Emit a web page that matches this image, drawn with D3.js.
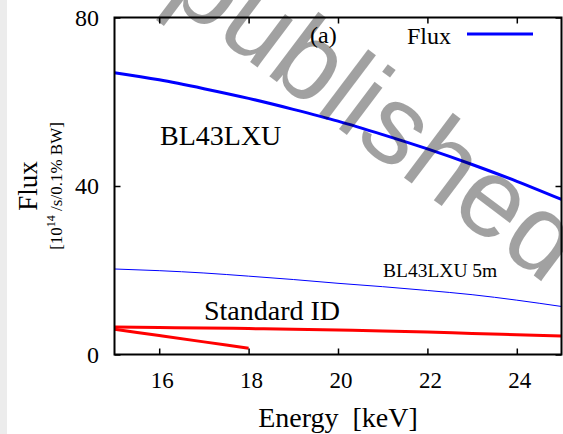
<!DOCTYPE html>
<html>
<head>
<meta charset="utf-8">
<script src="https://cdn.jsdelivr.net/npm/d3@7"></script>
<style>
  html, body { margin: 0; padding: 0; background: #fff; }
  svg { display: block; }
  text { font-family: "Liberation Serif", "Times New Roman", serif; fill: #000; }
</style>
</head>
<body>
<svg id="chart" width="563" height="434"></svg>
<script>
// Photon energy grid [keV]
const energy = [15, 16, 17, 18, 19, 20, 21, 22, 23, 24, 25];
// Flux in units of 1e14 photons/s/0.1% BW
const fluxBL43LXU   = [66.9, 65.2, 63.1, 60.8, 58.2, 55.4, 52.2, 48.8, 45.1, 41.1, 36.8];
const fluxBL43LXU5m = [20.3, 19.9, 19.35, 18.6, 17.8, 16.9, 16.1, 15.2, 14.2, 12.9, 11.4];
const fluxStdID     = [6.5, 6.4, 6.3, 6.15, 6.0, 5.8, 5.6, 5.35, 5.0, 4.7, 4.4];
// Second standard-ID branch, only covered up to 18 keV
const energyStdLow  = [15, 16, 17, 18];
const fluxStdLow    = [6.0, 4.5, 3.0, 1.5];

const xTicks = [16, 18, 20, 22, 24];
const yTicks = [0, 40, 80];

const svg = d3.select("#chart");
const W = 563, H = 434;
const m = { left: 114.5, right: 561.5, top: 17.5, bottom: 354.5 };

// page edge shading
svg.append("rect").attr("x", 0).attr("y", 0).attr("width", 7).attr("height", H).attr("fill", "#ececec");

const x = d3.scaleLinear().domain([15, 25]).range([m.left, m.right]);
const y = d3.scaleLinear().domain([0, 80]).range([m.bottom, m.top]);

const line = d3.line().x(d => x(d[0])).y(d => y(d[1])).curve(d3.curveMonotoneX);
const zip = (a, b) => a.map((v, i) => [v, b[i]]);

const plot = svg.append("g");
plot.append("path").datum(zip(energy, fluxBL43LXU5m)).attr("d", line)
  .attr("fill", "none").attr("stroke", "#0000ff").attr("stroke-width", 1);
plot.append("path").datum(zip(energyStdLow, fluxStdLow)).attr("d", line)
  .attr("fill", "none").attr("stroke", "#ff0000").attr("stroke-width", 3);
plot.append("path").datum(zip(energy, fluxStdID)).attr("d", line)
  .attr("fill", "none").attr("stroke", "#ff0000").attr("stroke-width", 3);
plot.append("path").datum(zip(energy, fluxBL43LXU)).attr("d", line)
  .attr("fill", "none").attr("stroke", "#0000ff").attr("stroke-width", 3);

// Axes: ticks pointing inward, mirrored on the opposite side
const tickLen = 6;
const axB = svg.append("g").attr("transform", `translate(0,${m.bottom})`)
  .call(d3.axisBottom(x).tickValues(xTicks).tickSize(-tickLen).tickFormat(""));
const axT = svg.append("g").attr("transform", `translate(0,${m.top})`)
  .call(d3.axisTop(x).tickValues(xTicks).tickSize(-tickLen).tickFormat(""));
const axL = svg.append("g").attr("transform", `translate(${m.left},0)`)
  .call(d3.axisLeft(y).tickValues(yTicks).tickSize(-tickLen).tickFormat(""));
const axR = svg.append("g").attr("transform", `translate(${m.right},0)`)
  .call(d3.axisRight(y).tickValues(yTicks).tickSize(-tickLen).tickFormat(""));
[axB, axT, axL, axR].forEach(g => {
  g.select(".domain").remove();
  g.selectAll(".tick line").attr("stroke", "#000").attr("stroke-width", 1.5);
});

// frame
svg.append("rect").attr("x", m.left).attr("y", m.top)
  .attr("width", m.right - m.left).attr("height", m.bottom - m.top)
  .attr("fill", "none").attr("stroke", "#000").attr("stroke-width", 2);

// tick labels
svg.append("g").selectAll("text").data(xTicks).join("text")
  .attr("x", d => x(d) + 3).attr("y", 388)
  .attr("text-anchor", "middle").attr("font-size", 23).text(d => d);
svg.append("g").selectAll("text").data(yTicks).join("text")
  .attr("x", 99).attr("y", d => y(d) + 8)
  .attr("text-anchor", "end").attr("font-size", 24).text(d => d);

// axis titles
svg.append("text").attr("x", 338).attr("y", 427).attr("text-anchor", "middle")
  .attr("font-size", 28).style("white-space", "pre").text("Energy  [keV]");
svg.append("text").attr("transform", "translate(37,186) rotate(-90)")
  .attr("text-anchor", "middle").attr("font-size", 27).text("Flux");
const sub = svg.append("text").attr("transform", "translate(62,186) rotate(-90)")
  .attr("text-anchor", "middle").attr("font-size", 17).style("white-space", "pre");
sub.append("tspan").text("[10");
sub.append("tspan").attr("font-size", 12).attr("dy", -7).text("14");
sub.append("tspan").attr("dy", 7).text(" /s/0.1% BW]");

// annotations
svg.append("text").attr("x", 160).attr("y", 145).attr("font-size", 28).text("BL43LXU");
svg.append("text").attr("x", 383).attr("y", 277).attr("font-size", 19.5).text("BL43LXU 5m");
svg.append("text").attr("x", 204).attr("y", 320).attr("font-size", 28).text("Standard ID");
svg.append("text").attr("x", 310).attr("y", 43).attr("font-size", 24).text("(a)");

// legend
svg.append("text").attr("x", 451).attr("y", 44).attr("text-anchor", "end")
  .attr("font-size", 24).text("Flux");
svg.append("line").attr("x1", 467).attr("x2", 533).attr("y1", 34).attr("y2", 34)
  .attr("stroke", "#0000ff").attr("stroke-width", 3);

// overlay stamp
svg.append("text").attr("transform", "translate(164,-3) rotate(37)")
  .style("font-family", "'Liberation Sans', Arial, sans-serif")
  .attr("font-size", 112).style("fill", "#000").attr("fill-opacity", 0.37)
  .text("published");
</script>
</body>
</html>
